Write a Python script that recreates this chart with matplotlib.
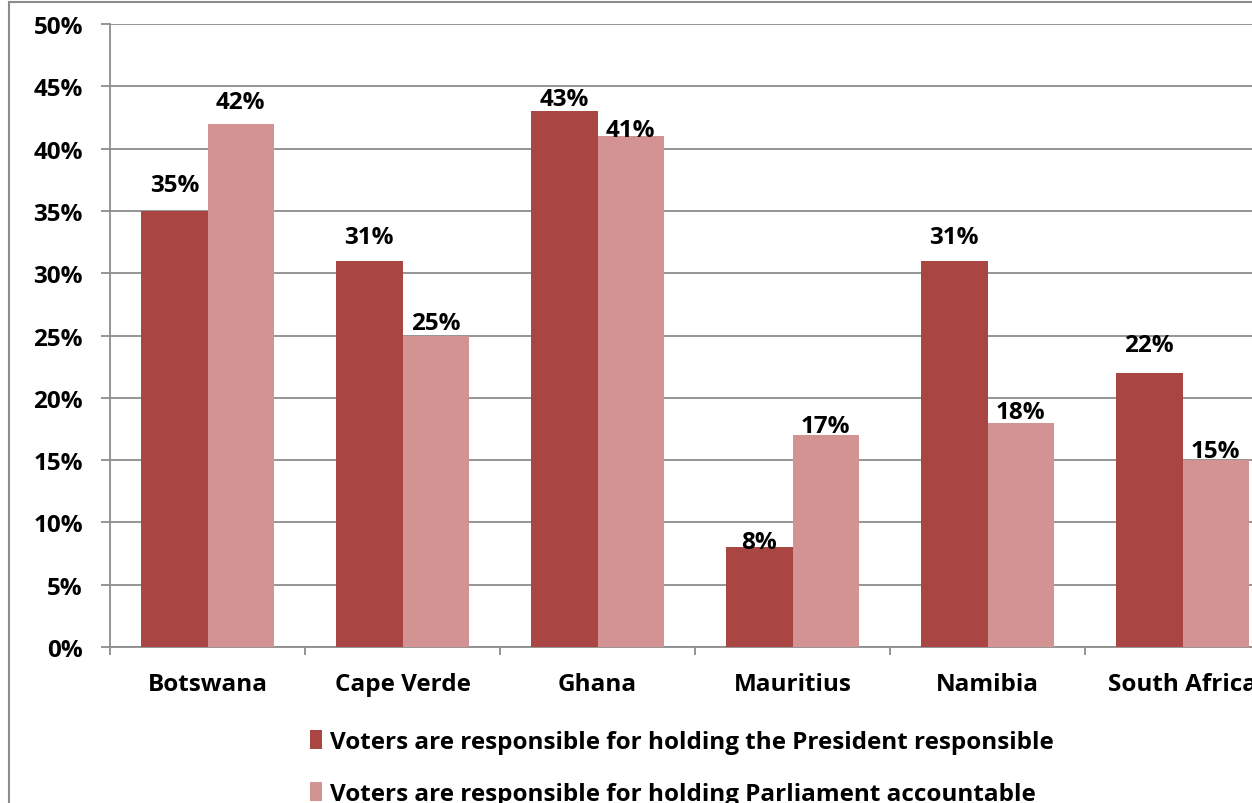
import matplotlib
matplotlib.use("Agg")
import matplotlib.pyplot as plt
import numpy as np
from matplotlib.patches import Rectangle

categories = ["Botswana", "Cape Verde", "Ghana", "Mauritius", "Namibia", "South Africa"]
president = [35, 31, 43, 8, 31, 22]
parliament = [42, 25, 41, 17, 18, 15]
series_names = ["Voters are responsible for holding the President responsible",
                "Voters are responsible for holding Parliament accountable"]
yticks = [0, 5, 10, 15, 20, 25, 30, 35, 40, 45, 50]

# label offsets (pixels above bar top) - styling only
off_pres = [26, 24, 12, 5, 24, 28]
off_parl = [22, 12, 6, 9, 11, 9]

dark = "#A94644"
light = "#D39392"
grid_c = "#8C8C8C"
FONT = "Open Sans"
FS = 17.5

W, H = 1252, 804
fig = plt.figure(figsize=(W / 100, H / 100), dpi=100)

fig.patches.append(Rectangle((9 / W, -0.5), 2.0, (H - 3) / H + 0.5,
                             transform=fig.transFigure, fill=False,
                             edgecolor=grid_c, linewidth=1.5))

ax_left, ax_right = 110 / W, 1280 / W
ax_bot, ax_top = (H - 648) / H, (H - 25) / H
ax = fig.add_axes([ax_left, ax_bot, ax_right - ax_left, ax_top - ax_bot])

x = np.arange(len(categories))
bw = 0.34
b1 = ax.bar(x - bw / 2, president, bw, color=dark, zorder=3, label=series_names[0])
b2 = ax.bar(x + bw / 2, parliament, bw, color=light, zorder=3, label=series_names[1])

for xi, v, o in zip(x - bw / 2, president, off_pres):
    ax.annotate(f"{v}%", (xi, v), xytext=(0, o), textcoords="offset pixels",
                ha="center", va="center", fontsize=FS, fontweight="bold",
                family=FONT, zorder=5)
for xi, v, o in zip(x + bw / 2, parliament, off_parl):
    ax.annotate(f"{v}%", (xi, v), xytext=(0, o), textcoords="offset pixels",
                ha="center", va="center", fontsize=FS, fontweight="bold",
                family=FONT, zorder=5)

ax.set_xlim(-0.5, len(categories) - 0.5)
ax.set_ylim(0, 50)
ax.set_yticks(yticks)
ax.set_yticklabels([f"{t}%" for t in yticks], fontsize=FS, fontweight="bold", family=FONT)
ax.yaxis.grid(True, color=grid_c, linewidth=1.3, zorder=0)
ax.set_axisbelow(True)

ax.set_xticks(x)
ax.set_xticklabels(categories, fontsize=FS, fontweight="bold", family=FONT)
ax.set_xticks(np.arange(len(categories) + 1) - 0.5, minor=True)
ax.tick_params(axis="x", which="major", length=0, pad=18)
ax.tick_params(axis="x", which="minor", length=6, width=1.3, color=grid_c)
ax.tick_params(axis="y", length=6.5, width=1.3, color=grid_c, pad=13)

for s in ["top", "right"]:
    ax.spines[s].set_visible(False)
for s in ["left", "bottom"]:
    ax.spines[s].set_color(grid_c)
    ax.spines[s].set_linewidth(1.3)

leg = fig.legend(handles=[b1, b2], labels=series_names, loc="center left",
                 bbox_to_anchor=(298 / W, (H - 769) / H), frameon=False,
                 prop={"family": FONT, "weight": "bold", "size": FS},
                 handlelength=0.5, handleheight=0.8, handletextpad=0.3,
                 labelspacing=1.15, borderpad=0)

fig.savefig("out.png", dpi=100)
